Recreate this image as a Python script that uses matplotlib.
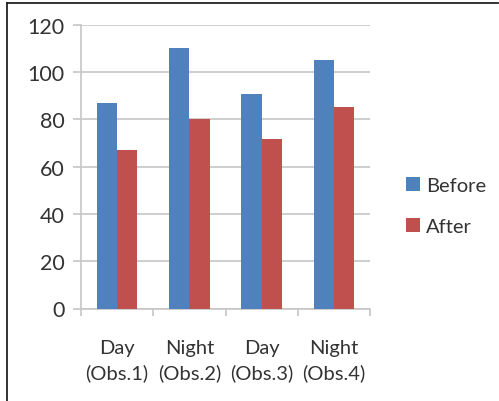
import matplotlib
matplotlib.use('Agg')
import matplotlib.pyplot as plt
from matplotlib.lines import Line2D
import numpy as np

categories = ['Day\n(Obs.1)', 'Night\n(Obs.2)', 'Day\n(Obs.3)', 'Night\n(Obs.4)']
before = [87, 110, 90.5, 105]
after = [67, 80, 71.5, 85]
y_ticks = [0, 20, 40, 60, 80, 100, 120]

plt.rcParams['font.family'] = ['Lato', 'DejaVu Sans']
plt.rcParams['font.size'] = 14.5

fig = plt.figure(figsize=(4.99, 4.02), dpi=100)
ax = fig.add_axes([81 / 499, 1 - 309.5 / 402, 289 / 499, 283.8 / 402])

x = np.arange(len(categories))
w = 0.28
ax.bar(x - w / 2, before, w, color='#4F81BD', label='Before', zorder=3)
ax.bar(x + w / 2, after, w, color='#C0504D', label='After', zorder=3)

ax.set_xlim(-0.5, len(categories) - 0.5)
ax.set_ylim(0, 120)
ax.set_yticks(y_ticks)
ax.set_yticklabels([str(v) for v in y_ticks], fontsize=15.5)
ax.grid(axis='y', color='#c6c6c6', linewidth=1.2, zorder=0)

ax.set_xticks(x)
ax.set_xticklabels(categories, linespacing=1.5)
ax.set_xticks(np.arange(len(categories) + 1) - 0.5, minor=True)
ax.tick_params(axis='x', which='major', length=0, pad=22, colors='#333333')
ax.tick_params(axis='x', which='minor', length=5, color='#c6c6c6', width=1.2)
ax.tick_params(axis='y', length=6, color='#c6c6c6', width=1.2, pad=6, labelcolor='#333333')

for s in ['top', 'right']:
    ax.spines[s].set_visible(False)
for s in ['left', 'bottom']:
    ax.spines[s].set_color('#c6c6c6')
    ax.spines[s].set_linewidth(1.2)

fig.legend(loc='center left', bbox_to_anchor=(406 / 499, 1 - 207 / 402),
           frameon=False, borderpad=0, borderaxespad=0,
           handlelength=0.68, handleheight=0.68, handletextpad=0.3,
           labelspacing=1.18, labelcolor='#333333')

# outer frame (top and left only)
fig.add_artist(Line2D([7 / 499, 7 / 499], [0, 1 - 4 / 402], transform=fig.transFigure,
                      color='#222222', linewidth=1.3))
fig.add_artist(Line2D([7 / 499, 498 / 499], [1 - 4 / 402, 1 - 4 / 402], transform=fig.transFigure,
                      color='#222222', linewidth=1.3))

fig.savefig('out.png', dpi=100)
